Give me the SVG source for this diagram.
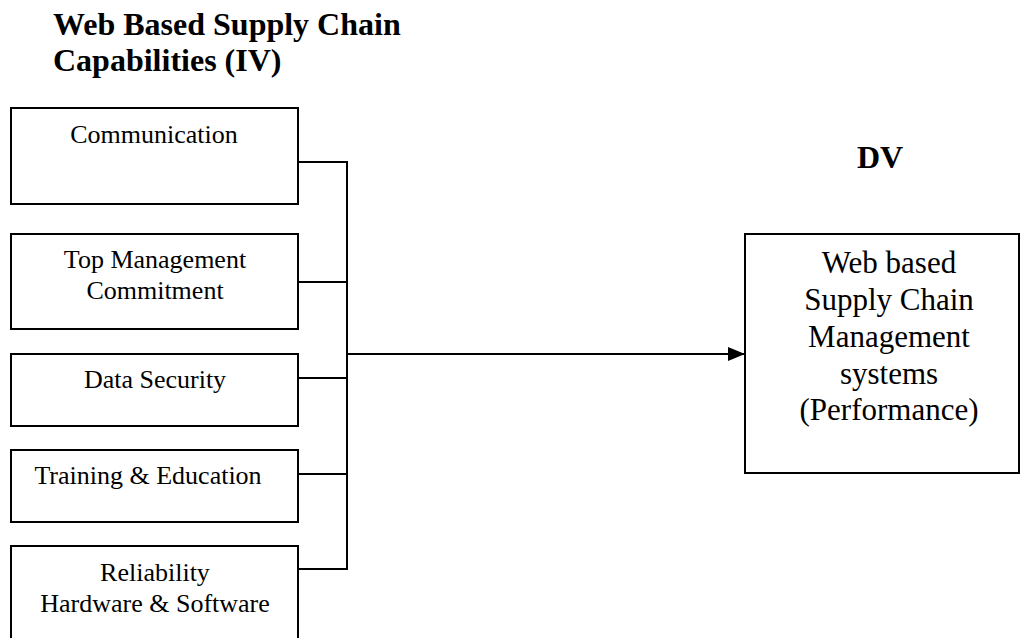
<svg xmlns="http://www.w3.org/2000/svg" width="1021" height="638" viewBox="0 0 1021 638">
<defs>
<style>
.box{fill:#fff;stroke:#000;stroke-width:2}
.t{font-family:"Liberation Serif","Times New Roman",serif;font-size:26px;fill:#000;text-anchor:middle}
.tr{font-family:"Liberation Serif","Times New Roman",serif;font-size:31px;fill:#000;text-anchor:middle}
.h{font-family:"Liberation Serif","Times New Roman",serif;font-size:32px;font-weight:bold;fill:#000}
.ln{fill:none;stroke:#000;stroke-width:2}
</style>
<marker id="arr" markerWidth="17" markerHeight="14" refX="17" refY="7" orient="auto" markerUnits="userSpaceOnUse">
<path d="M0,0 L17,7 L0,14 Z" fill="#000"/>
</marker>
</defs>
<rect width="1021" height="638" fill="#fff"/>
<g id="title">
<text class="h" x="53" y="35">Web Based Supply Chain</text>
<text class="h" x="53" y="71">Capabilities (IV)</text>
</g>
<g id="dv-label">
<text class="h" x="880" y="168" text-anchor="middle" font-size="31">DV</text>
</g>
<g id="communication">
<rect class="box" x="11" y="108" width="287" height="96"/>
<text class="t" x="154" y="143">Communication</text>
</g>
<g id="top-management">
<rect class="box" x="11" y="234" width="287" height="95"/>
<text class="t" x="155" y="268">Top Management</text>
<text class="t" x="155" y="299">Commitment</text>
</g>
<g id="data-security">
<rect class="box" x="11" y="354" width="287" height="72"/>
<text class="t" x="155" y="388">Data Security</text>
</g>
<g id="training">
<rect class="box" x="11" y="450" width="287" height="72"/>
<text class="t" x="148" y="484">Training &amp; Education</text>
</g>
<g id="reliability">
<rect class="box" x="11" y="546" width="287" height="110"/>
<text class="t" x="155" y="581">Reliability</text>
<text class="t" x="155" y="612">Hardware &amp; Software</text>
</g>
<g id="performance">
<rect class="box" x="745" y="234" width="274" height="239"/>
<text class="tr" x="889" y="273">Web based</text>
<text class="tr" x="889" y="310">Supply Chain</text>
<text class="tr" x="889" y="347">Management</text>
<text class="tr" x="889" y="384">systems</text>
<text class="tr" x="889" y="420">(Performance)</text>
</g>
<g id="connectors">
<path class="ln" d="M298,162 H347 V569 H298"/>
<path class="ln" d="M298,282 H347"/>
<path class="ln" d="M298,378 H347"/>
<path class="ln" d="M298,474 H347"/>
<path class="ln" d="M347,354 H745" marker-end="url(#arr)"/>
</g>
</svg>
